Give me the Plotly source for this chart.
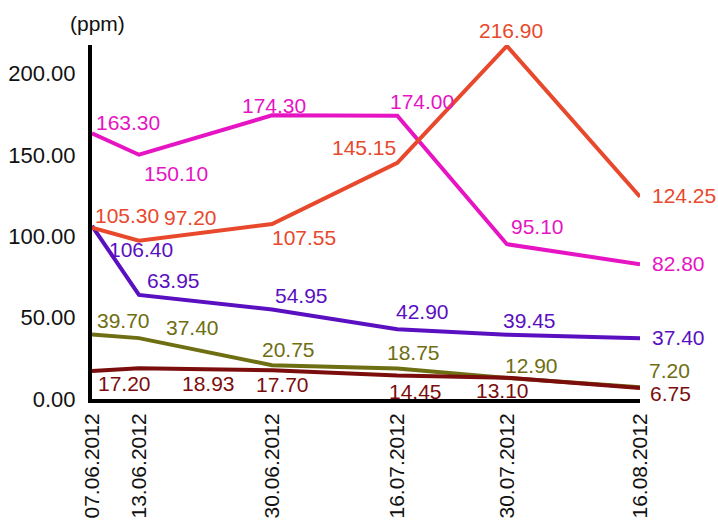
import plotly.graph_objects as go

# ---- data ----
dates = ["2012-06-07", "2012-06-13", "2012-06-30", "2012-07-16", "2012-07-30", "2012-08-16"]
date_labels = ["07.06.2012", "13.06.2012", "30.06.2012", "16.07.2012", "30.07.2012", "16.08.2012"]
magenta_vals = [163.30, 150.10, 174.30, 174.00, 95.10, 82.80]
orange_vals = [105.30, 97.20, 107.55, 145.15, 216.90, 124.25]
purple_vals = [106.40, 63.95, 54.95, 42.90, 39.45, 37.40]
olive_vals = [39.70, 37.40, 20.75, 18.75, 12.90, 7.20]
darkred_vals = [17.20, 18.93, 17.70, 14.45, 13.10, 6.75]
y_tick_vals = [0, 50, 100, 150, 200]
y_tick_text = ["0.00", "50.00", "100.00", "150.00", "200.00"]
unit_label = "(ppm)"

# ---- styling ----
series = [
    ("magenta", magenta_vals, "#E614C3",
     [(36, 11), (37, -19), (2, 10), (25, 14), (31, 18), (38, 1)]),
    ("purple", purple_vals, "#5A10C0",
     [(49, -24), (35, 14), (29, 14), (25, 18), (23, 14), (38, 1)]),
    ("olive", olive_vals, "#6E6E12",
     [(31, 14), (54, 11), (16, 16), (16, 16), (25, 13), (29, 17)]),
    ("darkred", darkred_vals, "#7B0D0D",
     [(32, -12), (70, -15), (10, -14), (18, -16), (-4, -13), (30, -5)]),
    ("orange", orange_vals, "#E8482C",
     [(35, 12), (52, 23), (32, -14), (-33, 15), (4, 15), (44, 1)]),
]

FONT = "Liberation Sans, Arial, sans-serif"

fig = go.Figure()
annotations = []
for name, vals, color, offs in series:
    fig.add_trace(go.Scatter(
        x=dates, y=vals, mode="lines", name=name,
        line=dict(color=color, width=4), showlegend=False,
        hoverinfo="skip",
    ))
    for d, v, (dx, dy) in zip(dates, vals, offs):
        annotations.append(dict(
            x=d, y=v, xref="x", yref="y", text=f"{v:.2f}",
            showarrow=False, xanchor="center", yanchor="middle",
            xshift=dx, yshift=dy,
            font=dict(family=FONT, size=21, color=color),
        ))

annotations.append(dict(
    x=5 / 548, y=1 + 21 / 354, xref="paper", yref="paper",
    text=unit_label, showarrow=False, xanchor="center", yanchor="middle",
    font=dict(family=FONT, size=21, color="#111111"),
))

fig.update_layout(
    width=718, height=521,
    margin=dict(l=92, r=78, t=45, b=122, autoexpand=False),
    paper_bgcolor="white", plot_bgcolor="white",
    annotations=annotations,
    xaxis=dict(
        type="date", range=[dates[0], dates[-1]],
        tickvals=dates, ticktext=date_labels, tickangle=-90,
        showgrid=False, zeroline=False, ticks="",
        showline=True, linecolor="black", linewidth=4,
        tickfont=dict(family=FONT, size=21, color="#111111"),
        ticklabelstandoff=2, automargin=False,
    ),
    yaxis=dict(
        range=[0, 217.5],
        tickvals=y_tick_vals, ticktext=y_tick_text,
        showgrid=False, zeroline=False, ticks="",
        showline=True, linecolor="black", linewidth=4,
        tickfont=dict(family=FONT, size=22, color="#111111"),
        ticklabelstandoff=8, automargin=False,
    ),
)

fig.write_html("out.html")
